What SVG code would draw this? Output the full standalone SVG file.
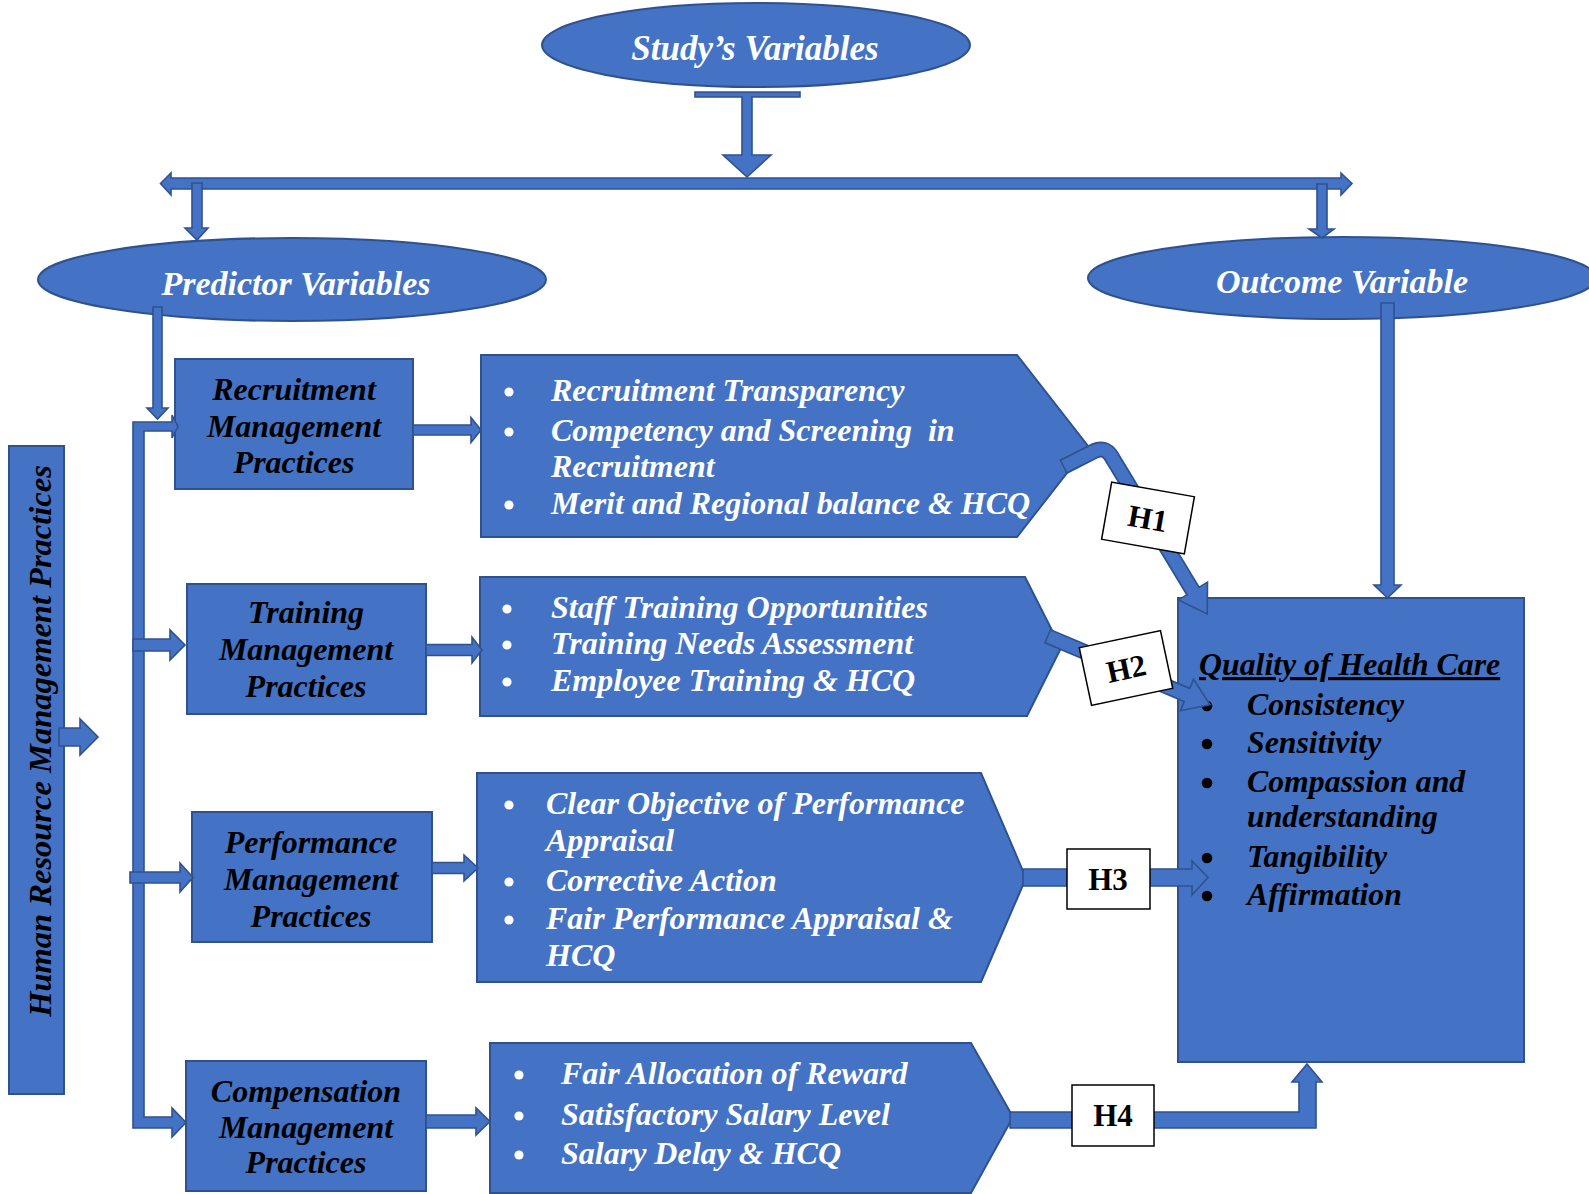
<svg xmlns="http://www.w3.org/2000/svg" width="1589" height="1194" viewBox="0 0 1589 1194">
<style>
.shape{fill:#4472C4;stroke:#2F528F;stroke-width:2}
.conn{fill:#4472C4;stroke:#2F528F;stroke-width:1.6}
.t{font-family:"Liberation Serif","Times New Roman",serif;font-weight:bold;font-style:italic;font-size:32px}
.q{font-size:31.8px}
.w{fill:#fff}
.k{fill:#000}
.c{text-anchor:middle}
.hbox{fill:#fff;stroke:#000;stroke-width:1.5}
.h{font-family:"Liberation Serif","Times New Roman",serif;font-weight:bold;font-size:31px;fill:#000;text-anchor:middle}
.bd{fill:none;stroke:#2F528F;stroke-width:16}
.bb{fill:none;stroke:#4472C4;stroke-width:12.5}
</style>
<defs>
<circle id="bw" r="4.6" fill="#fff"/>
<circle id="bk" r="5.3" fill="#000"/>
</defs>
<rect width="1589" height="1194" fill="#fff"/>

<g id="study">
<ellipse class="shape" cx="756" cy="45" rx="214" ry="42"/>
<text class="t w c" x="755" y="60" style="font-size:35px">Study’s Variables</text>
</g>
<g id="predictor">
<ellipse class="shape" cx="292" cy="279.5" rx="254" ry="41.5"/>
<text class="t w c" x="296" y="295" style="font-size:34px">Predictor Variables</text>
</g>
<g id="outcome">
<ellipse class="shape" cx="1342" cy="278" rx="254" ry="41"/>
<text class="t w c" x="1342" y="293" style="font-size:34px">Outcome Variable</text>
</g>

<g id="hrm">
<rect class="shape" x="9" y="446" width="55" height="648"/>
<text class="t k c" transform="translate(51,741) rotate(-90)" style="font-size:32.5px">Human Resource Management Practices</text>
</g>

<g id="recruitment">
<rect class="shape" x="175" y="359" width="238" height="130"/>
<text class="t k c" x="294" y="400">Recruitment</text>
<text class="t k c" x="294" y="437">Management</text>
<text class="t k c" x="294" y="473">Practices</text>
</g>
<g id="training">
<rect class="shape" x="187" y="584" width="239" height="130"/>
<text class="t k c" x="306" y="623">Training</text>
<text class="t k c" x="306" y="660">Management</text>
<text class="t k c" x="306" y="697">Practices</text>
</g>
<g id="performance">
<rect class="shape" x="192" y="812" width="240" height="130"/>
<text class="t k c" x="311" y="853">Performance</text>
<text class="t k c" x="311" y="890">Management</text>
<text class="t k c" x="311" y="927">Practices</text>
</g>
<g id="compensation">
<rect class="shape" x="186" y="1061" width="240" height="130"/>
<text class="t k c" x="306" y="1102">Compensation</text>
<text class="t k c" x="306" y="1138">Management</text>
<text class="t k c" x="306" y="1173">Practices</text>
</g>

<g id="recruitment-items">
<polygon class="shape" points="481,355 1017,355 1088,446 1017,537 481,537"/>
<use href="#bw" x="509" y="392"/>
<use href="#bw" x="509" y="432"/>
<use href="#bw" x="509" y="505"/>
<text class="t w" x="551" y="401">Recruitment Transparency</text>
<text class="t w" x="551" y="441" style="white-space:pre">Competency and Screening  in</text>
<text class="t w" x="551" y="477">Recruitment</text>
<text class="t w" x="551" y="514">Merit and Regional balance &amp; HCQ</text>
</g>
<g id="training-items">
<polygon class="shape" points="480,577 1025,577 1061,648 1027,716 480,716"/>
<use href="#bw" x="507" y="609"/>
<use href="#bw" x="507" y="645"/>
<use href="#bw" x="507" y="682"/>
<text class="t w" x="551" y="618">Staff Training Opportunities</text>
<text class="t w" x="551" y="654">Training Needs Assessment</text>
<text class="t w" x="551" y="691">Employee Training &amp; HCQ</text>
</g>
<g id="performance-items">
<polygon class="shape" points="477,773 981,773 1026,878 981,982 477,982"/>
<use href="#bw" x="509" y="805"/>
<use href="#bw" x="509" y="882"/>
<use href="#bw" x="509" y="920"/>
<text class="t w" x="546" y="814">Clear Objective of Performance</text>
<text class="t w" x="546" y="851">Appraisal</text>
<text class="t w" x="546" y="891">Corrective Action</text>
<text class="t w" x="546" y="929">Fair Performance Appraisal &amp;</text>
<text class="t w" x="546" y="966">HCQ</text>
</g>
<g id="compensation-items">
<polygon class="shape" points="490,1043 971,1043 1013,1117 971,1193 490,1193"/>
<use href="#bw" x="519" y="1075"/>
<use href="#bw" x="519" y="1116"/>
<use href="#bw" x="519" y="1155"/>
<text class="t w" x="561" y="1084">Fair Allocation of Reward</text>
<text class="t w" x="561" y="1125">Satisfactory Salary Level</text>
<text class="t w" x="561" y="1164">Salary Delay &amp; HCQ</text>
</g>

<g id="quality">
<rect class="shape" x="1178" y="598" width="346" height="464"/>
<text class="t k q" x="1199" y="675" text-decoration="underline">Quality of Health Care</text>
<use href="#bk" x="1207" y="706"/>
<use href="#bk" x="1207" y="744"/>
<use href="#bk" x="1207" y="783"/>
<use href="#bk" x="1207" y="858"/>
<use href="#bk" x="1207" y="896"/>
<text class="t k q" x="1247" y="715">Consistency</text>
<text class="t k q" x="1247" y="753">Sensitivity</text>
<text class="t k q" x="1247" y="792">Compassion and</text>
<text class="t k q" x="1247" y="827">understanding</text>
<text class="t k q" x="1247" y="867">Tangibility</text>
<text class="t k q" x="1247" y="905">Affirmation</text>
</g>

<g id="connectors">
<polygon class="conn" points="695,92 800,92 800,97 752,97 752,155 771,155 747,177 723,155 742,155 742,97 695,97"/>
<polygon class="conn" points="160.5,183.5 171,173 171,178 1341,178 1341,173 1352,183.5 1341,195 1341,189 171,189 171,195"/>
<polygon class="conn" points="192,183 202,183 202,228 208,228 197,240 185,228 192,228"/>
<polygon class="conn" points="1317,184 1327,184 1327,229 1334,229 1322,238 1309,229 1317,229"/>
<polygon class="conn" points="153,307 162,307 162,408 168,408 157.5,419 147,408 153,408"/>
<polygon class="conn" points="1381,303 1394,303 1394,585 1401,585 1387.5,598 1374,585 1381,585"/>
<polygon class="conn" points="59,728 80,728 80,719 98,737 80,755 80,746 59,746"/>
<polygon class="conn" points="133,422 172,422 172,415 178,426.5 172,438 172,431 144,431 144,1117 172,1117 172,1108 186,1122.5 172,1137 172,1128 133,1128"/>
<polygon class="conn" points="133,639 170,639 170,630 185,645 170,660 170,651 133,651"/>
<polygon class="conn" points="130,872 180,872 180,863 193,877.5 180,892 180,883 130,883"/>
<polygon class="conn" points="413,425 471,425 471,417.5 481,430 471,442.5 471,435 413,435"/>
<polygon class="conn" points="426,644.5 472,644.5 472,637 482,650 472,663 472,655.5 426,655.5"/>
<polygon class="conn" points="432,862.5 464,862.5 464,855 478,868 464,881 464,873.5 432,873.5"/>
<polygon class="conn" points="426,1115 476,1115 476,1108 490,1121.5 476,1135 476,1128 426,1128"/>
<path class="bd" d="M1063 467 L1094.2 451.1 Q1105 446 1111.3 456.2 L1195.6 595.3"/>
<polygon class="conn" points="1207.5,582.1 1207.2,614 1178.5,599.9"/>
<path class="bb" d="M1064.3 466.3 L1094.2 451.1 Q1105 446 1111.3 456.2 L1197 597.5"/>
<path class="bd" d="M1047 636 L1191.6 696.9"/>
<polygon class="conn" points="1193.6,679.3 1210,704.7 1180.4,710.7"/>
<path class="bb" d="M1048.4 636.6 L1194 698"/>
<polygon class="conn" points="1023,869 1192,869 1192,861 1208,877.5 1192,895 1192,886 1023,886"/>
<polygon class="conn" points="1010,1112 1299,1112 1299,1082 1292,1082 1307,1064 1322,1082 1316,1082 1316,1128 1010,1128"/>
</g>

<g id="h1" transform="translate(1148,518) rotate(10)">
<rect class="hbox" x="-42" y="-29" width="84" height="58"/>
<text class="h" x="0" y="11">H1</text>
</g>
<g id="h2" transform="translate(1126,668) rotate(-12)">
<rect class="hbox" x="-41.5" y="-29.5" width="83" height="59"/>
<text class="h" x="0" y="11">H2</text>
</g>
<g id="h3">
<rect class="hbox" x="1067" y="849" width="83" height="60"/>
<text class="h" x="1108" y="890">H3</text>
</g>
<g id="h4">
<rect class="hbox" x="1072" y="1085" width="82" height="61"/>
<text class="h" x="1113" y="1126">H4</text>
</g>
</svg>
